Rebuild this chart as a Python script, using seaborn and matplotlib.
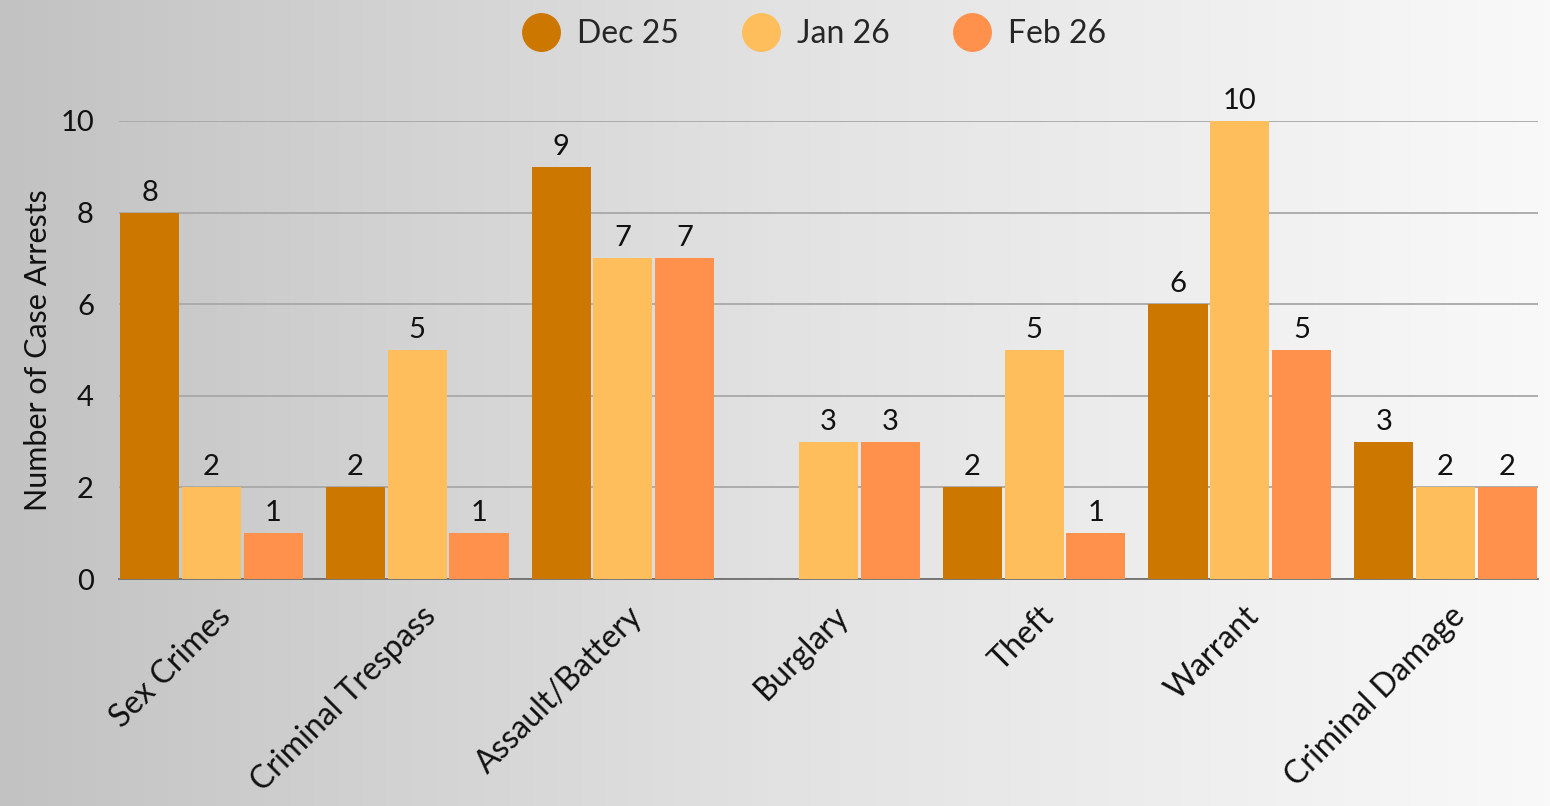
import numpy as np
import pandas as pd
import matplotlib
matplotlib.use("Agg")
import matplotlib.pyplot as plt
import matplotlib.transforms as mtransforms
from matplotlib.lines import Line2D
import seaborn as sns

categories = ["Sex Crimes", "Criminal Trespass", "Assault/Battery", "Burglary",
              "Theft", "Warrant", "Criminal Damage"]
months = ["Dec 25", "Jan 26", "Feb 26"]
dec_25 = [8, 2, 9, 0, 2, 6, 3]
jan_26 = [2, 5, 7, 3, 5, 10, 2]
feb_26 = [1, 1, 7, 3, 1, 5, 2]
colors = ["#CC7700", "#FFBE5C", "#FF914D"]

df = pd.DataFrame({
    "category": categories * 3,
    "month": [m for m in months for _ in categories],
    "value": dec_25 + jan_26 + feb_26,
})

sns.set_theme(style="white")
plt.rcParams["font.family"] = ["Lato", "DejaVu Sans"]

fig = plt.figure(figsize=(15.5, 8.06), dpi=100)

# gradient background, grey on the left to near white on the right
bg = fig.add_axes([0, 0, 1, 1], zorder=-10)
grad = np.linspace(0, 1, 512).reshape(1, -1)
bg.imshow(grad, aspect="auto", cmap=matplotlib.colors.LinearSegmentedColormap.from_list(
    "bg", ["#c2c2c2", "#e2e2e2", "#f9f9f9"]), extent=[0, 1, 0, 1])
bg.axis("off")

ax = fig.add_axes([119 / 1550, 1 - 579 / 806, (1538 - 119) / 1550, (579 - 121) / 806])
ax.patch.set_alpha(0)

sns.barplot(data=df, x="category", y="value", hue="month", hue_order=months,
            palette=colors, width=0.9, gap=0.04, saturation=1, linewidth=0,
            ax=ax, zorder=3, legend=False)

for cont in ax.containers:
    labels = [f"{int(v)}" if v > 0 else "" for v in cont.datavalues]
    ax.bar_label(cont, labels=labels, padding=5, fontsize=21, color="#111111")

ax.set_ylim(0, 10)
ax.set_xlim(-0.45, 6.45)
ax.set_yticks(range(0, 11, 2))
ax.yaxis.grid(True, color="#a8a8a8", linewidth=1.3, zorder=0)
ax.set_axisbelow(True)
for s in ["top", "right", "left"]:
    ax.spines[s].set_visible(False)
ax.spines["bottom"].set_color("#707070")
ax.spines["bottom"].set_linewidth(1.3)
ax.tick_params(axis="y", labelsize=21, length=0, pad=18, labelcolor="#111111")
ax.tick_params(axis="x", labelsize=23, length=0, pad=16, labelcolor="#111111")
shift = mtransforms.ScaledTranslation(4 / 100, 0, fig.dpi_scale_trans)
for lab in ax.get_xticklabels():
    lab.set_rotation(45)
    lab.set_ha("right")
    lab.set_rotation_mode("anchor")
    lab.set_transform(lab.get_transform() + shift)
ax.set_xlabel("")
ax.set_ylabel("Number of Case Arrests", fontsize=22, color="#111111", labelpad=6)

handles = [Line2D([0], [0], marker="o", linestyle="", markersize=27,
                  markerfacecolor=c, markeredgecolor=c) for c in colors]
fig.legend(handles, months, loc="upper center", bbox_to_anchor=(0.521, 1.012),
           ncol=3, frameon=False, fontsize=23, handletextpad=0.1, columnspacing=1.6)

fig.savefig("out.png", dpi=100)
